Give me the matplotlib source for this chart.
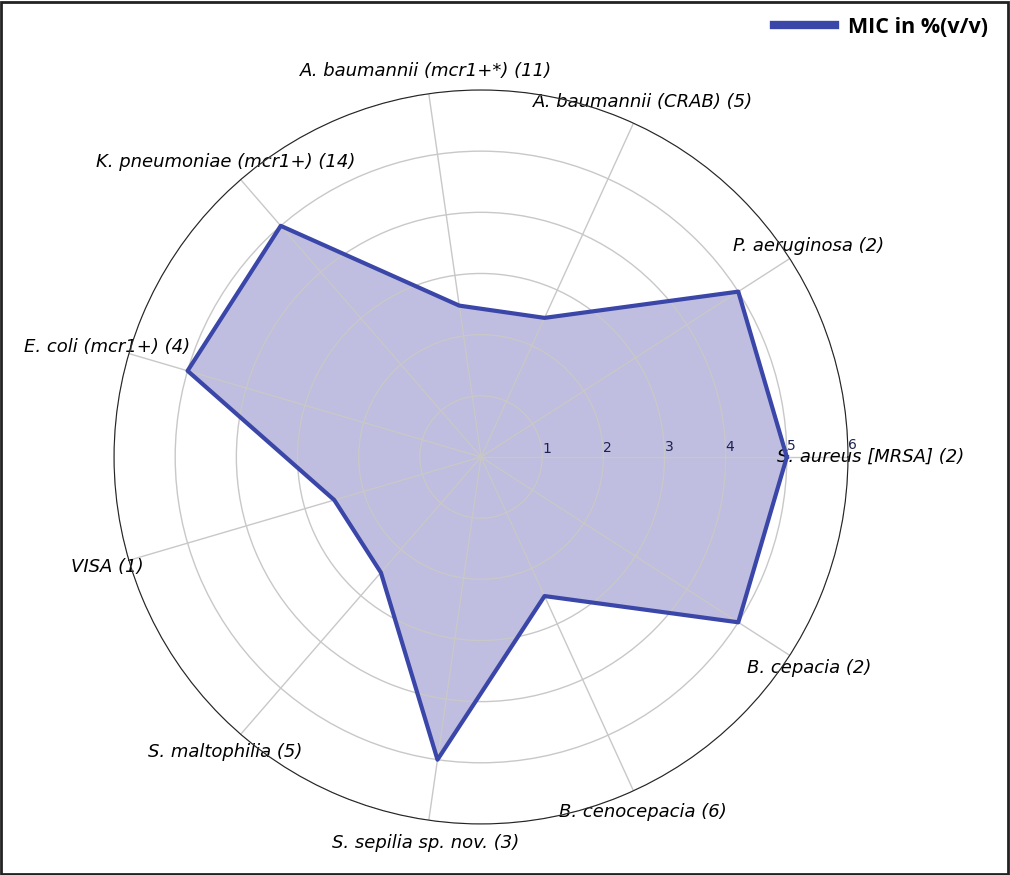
import numpy as np
import matplotlib.pyplot as plt
from matplotlib.patches import Rectangle

labels = ['S. aureus [MRSA] (2)', 'P. aeruginosa (2)', 'A. baumannii (CRAB) (5)',
          'A. baumannii (mcr1+*) (11)', 'K. pneumoniae (mcr1+) (14)', 'E. coli (mcr1+) (4)',
          'VISA (1)', 'S. maltophilia (5)', 'S. sepilia sp. nov. (3)',
          'B. cenocepacia (6)', 'B. cepacia (2)']
mic = [5, 5, 2.5, 2.5, 5, 5, 2.5, 2.5, 5, 2.5, 5]
rticks = [1, 2, 3, 4, 5, 6]

angles = np.linspace(0, 2 * np.pi, len(labels), endpoint=False)
theta = np.concatenate([angles, angles[:1]])
vals = mic + mic[:1]

fig = plt.figure(figsize=(10.1, 8.75), dpi=100)
ax = fig.add_axes([0.1129, 0.0583, 0.7267, 0.8389], polar=True)

line_col = '#3a46a8'
ax.plot(theta, vals, color=line_col, linewidth=3, label='MIC in %(v/v)')
ax.fill(theta, vals, color='#4a44a8', alpha=0.35)

ax.set_ylim(0, 6)
ax.set_yticks(rticks)
ax.set_yticklabels([str(t) for t in rticks], fontsize=10, color='#1c2150')
ax.set_rlabel_position(0.8)
ax.set_xticks(angles)
ax.set_xticklabels(labels, fontsize=13, fontstyle='italic')
ax.tick_params(axis='x', pad=6)
ax.grid(color='#c8c8c8', linewidth=1)
ax.spines['polar'].set_color('#222222')

leg = fig.legend(loc='upper right', bbox_to_anchor=(0.997, 1.003), frameon=False,
                 prop={'family': 'Open Sans', 'weight': 'bold', 'size': 15.5},
                 handlelength=2.8, handletextpad=0.6)
for h in leg.get_lines():
    h.set_linewidth(6)

# picture frame
fig.patches.append(Rectangle((0.001, 0.001), 0.997, 0.997, transform=fig.transFigure,
                             fill=False, edgecolor='#222222', linewidth=2))

plt.savefig('out.png', dpi=100)
